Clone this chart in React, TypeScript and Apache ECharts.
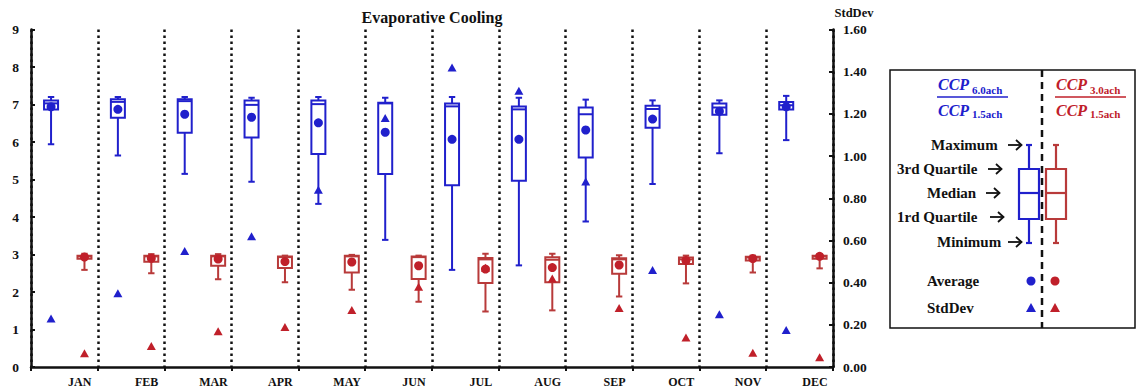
import React, { useEffect, useRef } from "react";
import * as echarts from "echarts";

const months = ["JAN", "FEB", "MAR", "APR", "MAY", "JUN", "JUL", "AUG", "SEP", "OCT", "NOV", "DEC"];

// CCP 6.0ach / CCP 1.5ach (blue)
const blueMin = [5.94, 5.64, 5.15, 4.94, 4.35, 3.39, 2.59, 2.71, 3.88, 4.88, 5.7, 6.05];
const blueQ1 = [6.87, 6.65, 6.25, 6.12, 5.68, 5.15, 4.85, 4.97, 5.59, 6.38, 6.73, 6.87];
const blueMedian = [7.03, 7.07, 7.09, 6.99, 7.01, 7.03, 6.95, 6.87, 6.74, 6.88, 6.92, 6.98];
const blueQ3 = [7.11, 7.14, 7.14, 7.11, 7.11, 7.05, 7.03, 6.95, 6.92, 6.97, 7.03, 7.07];
const blueMax = [7.2, 7.2, 7.2, 7.18, 7.2, 7.18, 7.2, 7.18, 7.13, 7.11, 7.11, 7.23];
const blueMean = [6.94, 6.87, 6.74, 6.66, 6.51, 6.26, 6.07, 6.07, 6.32, 6.61, 6.82, 6.94];
const blueStd = [0.23, 0.35, 0.55, 0.62, 0.84, 1.18, 1.42, 1.31, 0.88, 0.46, 0.25, 0.175];

// CCP 3.0ach / CCP 1.5ach (red)
const redMin = [2.59, 2.5, 2.34, 2.26, 2.06, 1.74, 1.48, 1.51, 1.88, 2.23, 2.52, 2.63];
const redQ1 = [2.89, 2.81, 2.7, 2.64, 2.52, 2.35, 2.24, 2.26, 2.49, 2.75, 2.84, 2.89];
const redMedian = [2.95, 2.95, 2.95, 2.93, 2.95, 2.93, 2.87, 2.86, 2.87, 2.87, 2.92, 2.95];
const redQ3 = [2.97, 2.97, 2.97, 2.95, 2.97, 2.95, 2.91, 2.93, 2.9, 2.92, 2.94, 2.97];
const redMax = [3.02, 3.01, 3.01, 2.97, 2.99, 2.97, 3.02, 3.02, 2.98, 2.97, 2.97, 3.01];
const redMean = [2.93, 2.9, 2.88, 2.81, 2.8, 2.7, 2.61, 2.65, 2.72, 2.84, 2.89, 2.95];
const redStd = [0.065, 0.1, 0.17, 0.19, 0.27, 0.38, 0.47, 0.42, 0.28, 0.14, 0.068, 0.046];

const leftTicks = [0, 9, 1];
const rightTicks = [0, 1.6, 0.2];

const BLUE = "#2020cc";
const RED = "#c0202a";
const RED_BOX = "#b83a3a";
const SERIF = "'Liberation Serif', 'DejaVu Serif', 'Times New Roman', serif";

const BLUE_OFF = 0.3;
const RED_OFF = 0.8;
const LABEL_OFF = 0.73;

function boxRender(color: string) {
  return (params: any, api: any) => {
    const x = api.value(0);
    const pMin = api.coord([x, api.value(1)]);
    const pQ1 = api.coord([x, api.value(2)]);
    const pMed = api.coord([x, api.value(3)]);
    const pQ3 = api.coord([x, api.value(4)]);
    const pMax = api.coord([x, api.value(5)]);
    const cx = pMin[0];
    const hw = 7;
    const cw = 3.2;
    const st = { stroke: color, lineWidth: 2, fill: "none" };
    return {
      type: "group",
      children: [
        { type: "line", shape: { x1: cx, y1: pMin[1], x2: cx, y2: pQ1[1] }, style: st },
        { type: "line", shape: { x1: cx, y1: pQ3[1], x2: cx, y2: pMax[1] }, style: st },
        { type: "line", shape: { x1: cx - cw, y1: pMin[1], x2: cx + cw, y2: pMin[1] }, style: st },
        { type: "line", shape: { x1: cx - cw, y1: pMax[1], x2: cx + cw, y2: pMax[1] }, style: st },
        {
          type: "rect",
          shape: { x: cx - hw, y: pQ3[1], width: hw * 2, height: Math.max(pQ1[1] - pQ3[1], 1) },
          style: { stroke: color, lineWidth: 2, fill: "#fff" },
        },
        { type: "line", shape: { x1: cx - hw, y1: pMed[1], x2: cx + hw, y2: pMed[1] }, style: st },
      ],
    };
  };
}

function legendBox(cx: number, color: string) {
  const yMax = 145, yQ3 = 169, yMed = 193, yQ1 = 219, yMin = 243;
  const hw = 10, cw = 3;
  const st = { stroke: color, lineWidth: 2.2, fill: "none" };
  return [
    { type: "line", shape: { x1: cx, y1: yMax, x2: cx, y2: yQ3 }, style: st },
    { type: "line", shape: { x1: cx, y1: yQ1, x2: cx, y2: yMin }, style: st },
    { type: "line", shape: { x1: cx - cw, y1: yMax, x2: cx + cw, y2: yMax }, style: st },
    { type: "line", shape: { x1: cx - cw, y1: yMin, x2: cx + cw, y2: yMin }, style: st },
    { type: "rect", shape: { x: cx - hw, y: yQ3, width: hw * 2, height: yQ1 - yQ3 }, style: st },
    { type: "line", shape: { x1: cx - hw, y1: yMed, x2: cx + hw, y2: yMed }, style: st },
  ];
}

function txt(text: string, x: number, y: number, extra: any = {}) {
  return {
    type: "text",
    x,
    y,
    style: {
      text,
      fontFamily: SERIF,
      fontWeight: "bold",
      fontSize: 15,
      fill: "#111",
      textAlign: "left",
      textVerticalAlign: "middle",
      verticalAlign: "middle",
      ...extra,
    },
  };
}

function arrow(x: number, y: number) {
  const st = { stroke: "#111", lineWidth: 1.8, fill: "none" };
  return [
    { type: "line", shape: { x1: x, y1: y, x2: x + 13, y2: y }, style: st },
    { type: "polyline", shape: { points: [[x + 8, y - 5], [x + 13.5, y], [x + 8, y + 5]] }, style: st },
  ];
}

function fraction(x: number, color: string, sub: string) {
  return [
    txt("CCP", x, 84, { fill: color, fontStyle: "italic", fontSize: 16 }),
    txt(sub, x + 34, 90, { fill: color, fontSize: 11 }),
    { type: "line", shape: { x1: x - 1, y1: 97, x2: x + 70, y2: 97 }, style: { stroke: color, lineWidth: 1.6 } },
    txt("CCP", x, 110, { fill: color, fontStyle: "italic", fontSize: 16 }),
    txt("1.5ach", x + 34, 114, { fill: color, fontSize: 11 }),
  ];
}

function tri(cx: number, cy: number, color: string) {
  return {
    type: "polygon",
    shape: { points: [[cx, cy - 5], [cx - 5, cy + 4], [cx + 5, cy + 4]] },
    style: { fill: color },
  };
}

export default function App() {
  const ref = useRef<HTMLDivElement>(null);
  useEffect(() => {
    document.body.style.margin = "0";
    if (!ref.current) return;
    const chart = echarts.init(ref.current, null, { renderer: "svg" });

    const boxData = (off: number, mn: number[], q1: number[], md: number[], q3: number[], mx: number[]) =>
      months.map((_, i) => [i + off, mn[i], q1[i], md[i], q3[i], mx[i]]);
    const pts = (off: number, vals: number[]) => months.map((_, i) => [i + off, vals[i]]);

    const axisFont = { fontFamily: SERIF, fontWeight: "bold", fontSize: 13.5, color: "#111" };

    const option: any = {
      animation: false,
      backgroundColor: "#fff",
      grid: { left: 31, right: 304, top: 29.5, bottom: 20.5, containLabel: false },
      xAxis: {
        type: "value",
        min: 0,
        max: 12,
        interval: 1,
        axisLine: { show: true, onZero: false, lineStyle: { color: "#111", width: 2.5 } },
        axisTick: { show: true, length: 4, lineStyle: { color: "#111", width: 2 } },
        splitLine: { show: true, lineStyle: { color: "#111", width: 2.5, type: [2.5, 3.5] } },
        axisLabel: {
          customValues: months.map((_, i) => i + LABEL_OFF),
          formatter: (v: number) => months[Math.round(v - LABEL_OFF)] ?? "",
          fontFamily: SERIF,
          fontWeight: "bold",
          fontSize: 12,
          color: "#111",
          margin: 9,
        },
      },
      yAxis: [
        {
          type: "value",
          position: "left",
          min: leftTicks[0],
          max: leftTicks[1],
          interval: leftTicks[2],
          axisLine: { show: true, lineStyle: { color: "#111", width: 2.5 } },
          axisTick: { show: true, inside: true, length: 4, lineStyle: { color: "#111", width: 2 } },
          splitLine: { show: false },
          axisLabel: { ...axisFont, margin: 12 },
        },
        {
          type: "value",
          position: "right",
          min: rightTicks[0],
          max: rightTicks[1],
          interval: rightTicks[2],
          axisLine: { show: true, lineStyle: { color: "#111", width: 2.5 } },
          axisTick: { show: true, inside: true, length: 4, lineStyle: { color: "#111", width: 2 } },
          splitLine: { show: false },
          axisLabel: { ...axisFont, margin: 10, formatter: (v: number) => v.toFixed(2) },
        },
      ],
      series: [
        {
          type: "custom",
          name: "blueBox",
          xAxisIndex: 0,
          yAxisIndex: 0,
          z: 2,
          encode: { x: 0, y: [1, 2, 3, 4, 5] },
          renderItem: boxRender(BLUE),
          data: boxData(BLUE_OFF, blueMin, blueQ1, blueMedian, blueQ3, blueMax),
        },
        {
          type: "custom",
          name: "redBox",
          xAxisIndex: 0,
          yAxisIndex: 0,
          z: 2,
          encode: { x: 0, y: [1, 2, 3, 4, 5] },
          renderItem: boxRender(RED_BOX),
          data: boxData(RED_OFF, redMin, redQ1, redMedian, redQ3, redMax),
        },
        {
          type: "scatter",
          yAxisIndex: 0,
          z: 4,
          symbol: "circle",
          symbolSize: 9,
          itemStyle: { color: BLUE, opacity: 1 },
          data: pts(BLUE_OFF, blueMean),
        },
        {
          type: "scatter",
          yAxisIndex: 0,
          z: 4,
          symbol: "circle",
          symbolSize: 9,
          itemStyle: { color: RED, opacity: 1 },
          data: pts(RED_OFF, redMean),
        },
        {
          type: "scatter",
          yAxisIndex: 1,
          z: 5,
          symbol: "triangle",
          symbolSize: [9, 8],
          itemStyle: { color: BLUE, opacity: 1 },
          data: pts(BLUE_OFF, blueStd),
        },
        {
          type: "scatter",
          yAxisIndex: 1,
          z: 5,
          symbol: "triangle",
          symbolSize: [9, 8],
          itemStyle: { color: RED, opacity: 1 },
          data: pts(RED_OFF, redStd),
        },
      ],
      graphic: [
        txt("Evaporative Cooling", 432, 17, { textAlign: "center", fontSize: 16 }),
        txt("StdDev", 854, 13, { textAlign: "center", fontSize: 12.5 }),
        {
          type: "rect",
          shape: { x: 890, y: 70, width: 245, height: 258 },
          style: { stroke: "#111", lineWidth: 1.5, fill: "none" },
        },
        {
          type: "line",
          shape: { x1: 1042, y1: 70, x2: 1042, y2: 328 },
          style: { stroke: "#111", lineWidth: 2.5, lineDash: [7, 5] },
        },
        ...fraction(938, BLUE, "6.0ach"),
        ...fraction(1056, RED, "3.0ach"),
        txt("Maximum", 931, 145),
        ...arrow(1008, 145),
        txt("3rd Quartile", 897, 169),
        ...arrow(988, 169),
        txt("Median", 927, 193),
        ...arrow(986, 193),
        txt("1rd Quartile", 897, 217),
        ...arrow(990, 217),
        txt("Minimum", 937, 242),
        ...arrow(1008, 242),
        ...legendBox(1029, BLUE),
        ...legendBox(1056, RED_BOX),
        txt("Average", 927, 281),
        { type: "circle", shape: { cx: 1031, cy: 281, r: 4.5 }, style: { fill: BLUE } },
        { type: "circle", shape: { cx: 1055, cy: 281, r: 4.5 }, style: { fill: RED } },
        txt("StdDev", 927, 308),
        tri(1031, 308, BLUE),
        tri(1055, 308, RED),
      ],
    };
    chart.setOption(option);
    return () => chart.dispose();
  }, []);
  return <div ref={ref} style={{ width: 1137, height: 388 }} />;
}
